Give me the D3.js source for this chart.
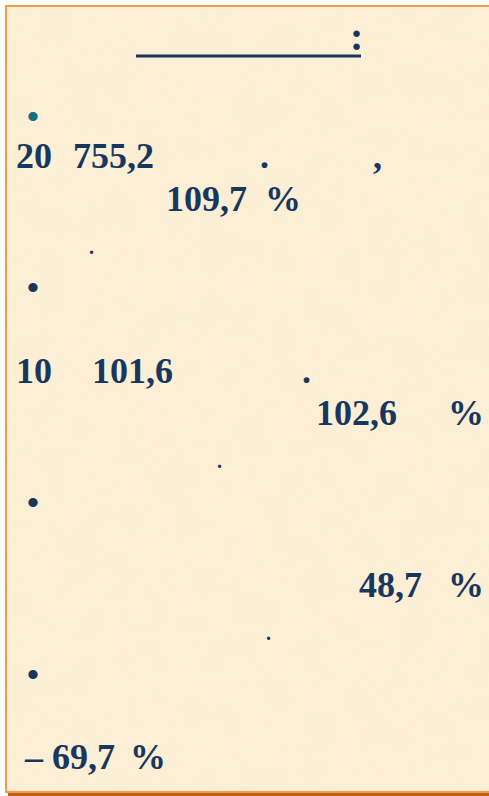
<!DOCTYPE html>
<html>
<head>
<meta charset="utf-8">
<script src="https://cdn.jsdelivr.net/npm/d3@7"></script>
<style>
  html, body { margin: 0; padding: 0; background: #fff; }
  svg { display: block; }
  text { white-space: pre; }
</style>
</head>
<body>
<div id="slide"></div>
<script>
// values as shown on the slide (the words around them are not rendered)
var amounts  = [["20", "755,2"], ["10", "101,6"]];
var percents = ["109,7", "102,6", "48,7", "– 69,7"];
var sign = "%";

(function() {
    var W = 489, H = 796;
    var ink = "#18375f", serif = "'Liberation Serif','Times New Roman',serif";
    var svg = d3.select("#slide").append("svg").attr("width", W).attr("height", H);

    var defs = svg.append("defs");
    var f = defs.append("filter").attr("id", "paper").attr("x", 0).attr("y", 0)
        .attr("width", "100%").attr("height", "100%");
    f.append("feTurbulence").attr("type", "fractalNoise").attr("baseFrequency", 0.03)
        .attr("numOctaves", 3).attr("seed", 7).attr("result", "n");
    f.append("feColorMatrix").attr("in", "n").attr("type", "matrix")
        .attr("values", "0 0 0 0 0.94  0 0 0 0 0.85  0 0 0 0 0.66  0 0 0 1.4 -0.55");

    // frame + paper
    svg.append("rect").attr("x", 8).attr("y", 793).attr("width", W).attr("height", 3).attr("fill", "#b8601c");
    svg.append("rect").attr("x", 6).attr("y", 6).attr("width", W + 10).attr("height", 786)
        .attr("fill", "#fcefd5").attr("stroke", "#f8994a").attr("stroke-width", 2);
    svg.append("rect").attr("x", 7).attr("y", 7).attr("width", W).attr("height", 784)
        .attr("filter", "url(#paper)").attr("opacity", 0.5);

    // title
    svg.append("line").attr("x1", 136).attr("x2", 361).attr("y1", 56).attr("y2", 56)
        .attr("stroke", ink).attr("stroke-width", 3);
    svg.append("text").attr("x", 350).attr("y", 50).text(":")
        .attr("font-family", serif).attr("font-weight", "bold").attr("font-size", 40).attr("fill", ink);

    // bullets
    var bullets = [116, 287, 502, 674];
    svg.selectAll("text.bul").data(bullets).enter().append("text").attr("class", "bul")
        .attr("x", 33).attr("y", function(d) { return d; })
        .attr("text-anchor", "middle").attr("dominant-baseline", "central")
        .attr("font-family", "'Liberation Sans',Arial,sans-serif").attr("font-size", 34)
        .attr("fill", function(d, i) { return i == 0 ? "#12707e" : ink; })
        .text("•");

    var big = function(sel) {
        return sel.attr("font-family", serif).attr("font-weight", "bold")
            .attr("font-size", 36).attr("fill", ink);
    };

    // amounts: [whole part x, rest x, baseline]
    var amountPos = [[16, 73, 168], [16, 92, 383]];
    amounts.forEach(function(a, i) {
        var p = amountPos[i];
        big(svg.append("text").attr("x", p[0]).attr("y", p[2]).text(a[0]));
        big(svg.append("text").attr("x", p[1]).attr("y", p[2]).text(a[1]));
    });

    // percents: [number x, baseline, % x]
    var pctPos = [[166, 211, 265], [316, 425, 448], [359, 597, 448], [25, 769, 130]];
    percents.forEach(function(v, i) {
        var p = pctPos[i];
        big(svg.append("text").attr("x", p[0]).attr("y", p[1]).text(v));
        big(svg.append("text").attr("x", p[2]).attr("y", p[1]).text(sign));
    });

    // stray punctuation left from the lines
    var marks = [[260, 168, ".", 36], [373, 168, ",", 36], [302, 383, ".", 36],
                 [89, 254, ".", 20], [217, 468, ".", 20], [266, 640, ".", 20]];
    svg.selectAll("text.mk").data(marks).enter().append("text").attr("class", "mk")
        .attr("x", function(d) { return d[0]; }).attr("y", function(d) { return d[1]; })
        .attr("font-family", serif).attr("font-weight", "bold")
        .attr("font-size", function(d) { return d[3]; }).attr("fill", ink)
        .text(function(d) { return d[2]; });
})();
</script>
</body>
</html>
